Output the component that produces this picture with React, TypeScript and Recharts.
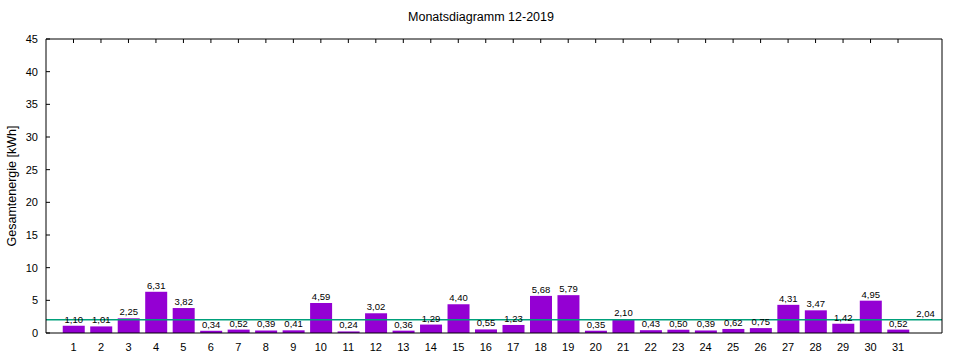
import {
  ComposedChart,
  Bar,
  XAxis,
  YAxis,
  ReferenceLine,
  ReferenceDot,
  LabelList,
} from "recharts";

const days = [
  1, 2, 3, 4, 5, 6, 7, 8, 9, 10, 11, 12, 13, 14, 15, 16, 17, 18, 19, 20, 21,
  22, 23, 24, 25, 26, 27, 28, 29, 30, 31,
];
const energy = [
  1.1, 1.01, 2.25, 6.31, 3.82, 0.34, 0.52, 0.39, 0.41, 4.59, 0.24, 3.02, 0.36,
  1.29, 4.4, 0.55, 1.23, 5.68, 5.79, 0.35, 2.1, 0.43, 0.5, 0.39, 0.62, 0.75,
  4.31, 3.47, 1.42, 4.95, 0.52,
];
const average = 2.04;
const averageDay = 32;
const yTicks = [0, 5, 10, 15, 20, 25, 30, 35, 40, 45];

const data = days.map((d, i) => ({ day: d, kwh: energy[i] }));

const fmt = (v: number) => v.toFixed(2).replace(".", ",");
const FONT = "'Liberation Sans', Arial, sans-serif";

export default function App() {
  return (
    <div
      style={{
        position: "absolute",
        left: 0,
        top: 0,
        width: 960,
        height: 360,
        background: "#fff",
        fontFamily: FONT,
      }}
    >
      <div
        style={{
          position: "absolute",
          top: 10,
          left: 0,
          width: 962,
          textAlign: "center",
          fontSize: 12.5,
          color: "#000",
        }}
      >
        Monatsdiagramm 12-2019
      </div>
      <div
        style={{
          position: "absolute",
          left: 12,
          top: 186,
          transform: "translate(-50%, -50%) rotate(-90deg)",
          fontSize: 12.5,
          whiteSpace: "nowrap",
          color: "#000",
        }}
      >
        Gesamtenergie [kWh]
      </div>
      <ComposedChart
        width={960}
        height={360}
        data={data}
        margin={{ top: 38, right: 17, left: 0, bottom: 0 }}
        style={{ position: "absolute", left: 0, top: 0 }}
      >
        <XAxis
          dataKey="day"
          type="number"
          domain={[0, 32.6]}
          ticks={days}
          allowDataOverflow
          height={27}
          tickLine={false}
          tickMargin={4}
          axisLine={{ stroke: "#000" }}
          tick={{ fill: "#000", fontSize: 11, fontFamily: FONT }}
          interval={0}
        />
        <XAxis
          xAxisId="top"
          dataKey="day"
          type="number"
          orientation="top"
          domain={[0, 32.6]}
          ticks={days}
          allowDataOverflow
          height={1}
          tickSize={-4}
          tickFormatter={() => ""}
          axisLine={{ stroke: "#000" }}
          tickLine={{ stroke: "#000" }}
          interval={0}
        />
        <YAxis
          domain={[0, 45]}
          ticks={yTicks}
          width={46}
          tickSize={-4}
          tickMargin={12}
          axisLine={{ stroke: "#000" }}
          tickLine={{ stroke: "#000" }}
          tick={{ fill: "#000", fontSize: 11, fontFamily: FONT }}
          interval={0}
        />
        <YAxis
          yAxisId="right"
          orientation="right"
          domain={[0, 45]}
          ticks={yTicks}
          width={1}
          tickSize={-4}
          tickFormatter={() => ""}
          axisLine={{ stroke: "#000" }}
          tickLine={{ stroke: "#000" }}
          interval={0}
        />
        <Bar dataKey="kwh" fill="#9400d3" barSize={22} isAnimationActive={false}>
          <LabelList
            dataKey="kwh"
            position="top"
            offset={3}
            formatter={(v: any) => fmt(Number(v))}
            style={{ fill: "#000", fontSize: 9.5, fontFamily: FONT }}
          />
        </Bar>
        <ReferenceLine y={average} stroke="#00a07a" strokeWidth={1.5} />
        <ReferenceDot
          x={averageDay}
          y={average}
          r={0}
          fill="none"
          stroke="none"
          label={{
            value: fmt(average),
            position: "top",
            offset: 3,
            fill: "#000",
            fontSize: 9.5,
            fontFamily: FONT,
          }}
        />
      </ComposedChart>
    </div>
  );
}
